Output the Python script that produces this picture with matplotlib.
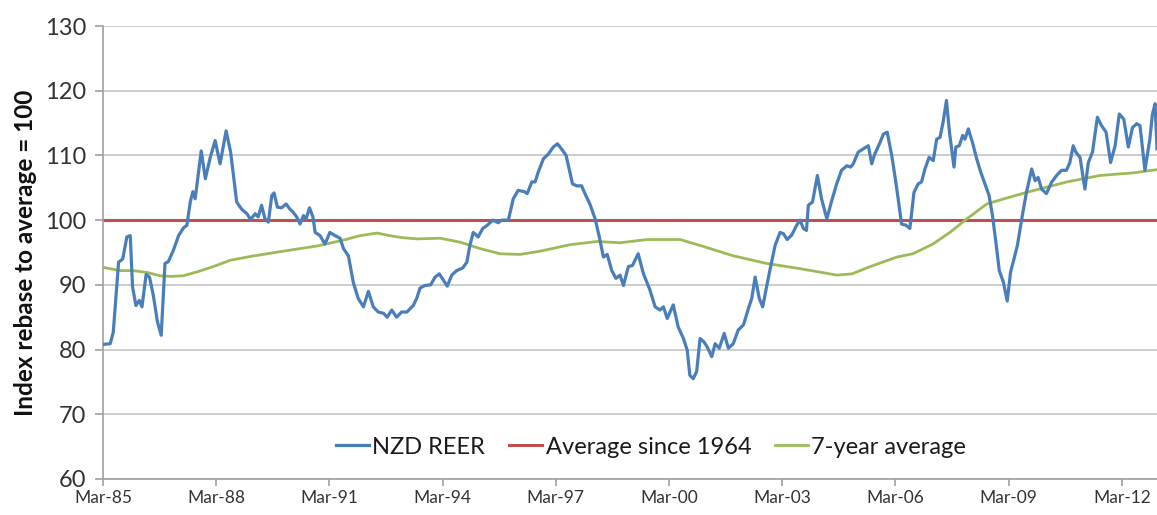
import matplotlib.pyplot as plt
import numpy as np

# NZD real effective exchange rate, index rebased so long-run average = 100
reer_date = [1985.18, 1985.36, 1985.44, 1985.58, 1985.69, 1985.80, 1985.89, 1985.95, 1986.04, 1986.13,
             1986.20, 1986.31, 1986.40, 1986.50, 1986.61, 1986.71, 1986.81, 1986.90, 1987.03, 1987.17,
             1987.30, 1987.39, 1987.48, 1987.55, 1987.61, 1987.77, 1987.88, 1988.01, 1988.14, 1988.27,
             1988.43, 1988.55, 1988.71, 1988.84, 1988.98, 1989.08, 1989.20, 1989.28, 1989.37, 1989.46,
             1989.55, 1989.64, 1989.70, 1989.79, 1989.90, 1990.02, 1990.12, 1990.21, 1990.30, 1990.39,
             1990.48, 1990.55, 1990.64, 1990.73, 1990.79, 1990.92, 1991.05, 1991.18, 1991.32, 1991.45,
             1991.54, 1991.67, 1991.80, 1991.93, 1992.07, 1992.20, 1992.33, 1992.46, 1992.60, 1992.70,
             1992.82, 1992.95, 1993.08, 1993.22, 1993.39, 1993.48, 1993.57, 1993.70, 1993.85, 1993.97,
             1994.08, 1994.19, 1994.29, 1994.41, 1994.54, 1994.70, 1994.81, 1994.89, 1994.98, 1995.11,
             1995.23, 1995.35, 1995.50, 1995.64, 1995.73, 1995.91, 1996.04, 1996.17, 1996.33, 1996.41,
             1996.53, 1996.62, 1996.70, 1996.84, 1996.97, 1997.10, 1997.21, 1997.32, 1997.44, 1997.53,
             1997.61, 1997.72, 1997.85, 1997.94, 1998.07, 1998.21, 1998.32, 1998.43, 1998.53, 1998.65,
             1998.76, 1998.87, 1998.96, 1999.09, 1999.20, 1999.35, 1999.49, 1999.65, 1999.80, 1999.93,
             2000.02, 2000.12, 2000.28, 2000.41, 2000.55, 2000.65, 2000.72, 2000.81, 2000.90, 2000.99,
             2001.09, 2001.18, 2001.30, 2001.39, 2001.50, 2001.63, 2001.74, 2001.87, 2002.00, 2002.14,
             2002.27, 2002.36, 2002.45, 2002.56, 2002.65, 2002.76, 2002.86, 2002.98, 2003.11, 2003.20,
             2003.30, 2003.42, 2003.55, 2003.64, 2003.73, 2003.81, 2003.86, 2003.97, 2004.10, 2004.21,
             2004.35, 2004.48, 2004.61, 2004.74, 2004.88, 2004.98, 2005.05, 2005.18, 2005.31, 2005.45,
             2005.54, 2005.62, 2005.76, 2005.85, 2005.95, 2006.07, 2006.16, 2006.24, 2006.33, 2006.45,
             2006.55, 2006.66, 2006.77, 2006.86, 2006.95, 2007.06, 2007.17, 2007.26, 2007.35, 2007.43,
             2007.52, 2007.60, 2007.72, 2007.77, 2007.86, 2007.95, 2008.01, 2008.10, 2008.21, 2008.32,
             2008.43, 2008.54, 2008.65, 2008.74, 2008.83, 2008.92, 2009.03, 2009.13, 2009.22, 2009.31,
             2009.40, 2009.51, 2009.64, 2009.78, 2009.87, 2009.95, 2010.04, 2010.17, 2010.31, 2010.44,
             2010.57, 2010.70, 2010.79, 2010.88, 2010.95, 2011.06, 2011.19, 2011.28, 2011.39, 2011.52,
             2011.63, 2011.75, 2011.87, 2011.99, 2012.10, 2012.22, 2012.34, 2012.45, 2012.56, 2012.65,
             2012.78, 2012.91, 2012.98, 2013.05, 2013.10]
reer_value = [80.8, 80.9, 82.7, 93.5, 94.0, 97.4, 97.6, 89.7, 86.8, 87.6,
              86.6, 91.6, 91.2, 88.4, 84.3, 82.2, 93.3, 93.6, 95.3, 97.6,
              98.8, 99.2, 102.8, 104.4, 103.3, 110.7, 106.4, 109.7, 112.3, 108.7,
              113.8, 110.5, 102.8, 101.7, 101.0, 100.1, 101.0, 100.5, 102.3, 100.2,
              99.7, 103.8, 104.2, 102.0, 101.9, 102.5, 101.7, 101.2, 100.5, 99.4,
              100.7, 100.2, 101.9, 100.5, 98.1, 97.6, 96.3, 98.1, 97.6, 97.2,
              95.6, 94.5, 90.4, 87.9, 86.6, 89.0, 86.6, 85.8, 85.6, 85.0,
              86.1, 85.0, 85.8, 85.8, 86.8, 87.9, 89.5, 89.9, 90.0, 91.2,
              91.7, 90.7, 89.8, 91.5, 92.2, 92.6, 93.5, 96.1, 98.1, 97.4,
              98.7, 99.2, 100.0, 99.6, 100.0, 100.0, 103.3, 104.6, 104.4, 104.1,
              105.9, 105.9, 107.4, 109.5, 110.2, 111.3, 111.8, 111.0, 110.0, 107.7,
              105.6, 105.3, 105.3, 104.1, 102.5, 100.2, 97.4, 94.3, 94.7, 92.2,
              91.0, 91.5, 89.9, 92.8, 93.0, 94.8, 91.7, 89.4, 86.6, 86.1,
              86.6, 84.8, 86.9, 83.5, 81.7, 79.9, 76.0, 75.5, 76.6, 81.7,
              81.2, 80.4, 78.9, 80.9, 80.2, 82.5, 80.2, 80.9, 83.0, 83.8,
              86.3, 87.9, 91.2, 87.9, 86.6, 89.9, 92.8, 96.1, 98.1, 97.9,
              97.0, 97.7, 99.2, 100.0, 98.7, 98.4, 102.3, 102.8, 106.9, 103.3,
              100.2, 103.0, 105.6, 107.7, 108.4, 108.2, 108.7, 110.5, 111.0, 111.5,
              108.7, 110.2, 112.0, 113.3, 113.6, 110.0, 106.6, 103.3, 99.4, 99.2,
              98.7, 104.3, 105.6, 105.9, 107.9, 109.7, 109.2, 112.5, 112.8, 115.1,
              118.5, 113.6, 108.2, 111.3, 111.5, 113.1, 112.5, 114.1, 112.0, 109.5,
              107.4, 105.6, 103.8, 100.7, 96.6, 92.2, 90.4, 87.5, 92.0, 94.0,
              96.1, 100.0, 104.3, 107.9, 106.1, 106.6, 104.8, 104.1, 105.9, 106.9,
              107.7, 107.7, 108.9, 111.5, 110.5, 109.7, 104.8, 108.9, 110.5, 115.9,
              114.6, 113.6, 108.9, 111.5, 116.4, 115.6, 111.3, 114.3, 114.9, 114.6,
              107.7, 112.5, 116.4, 118.0, 111.0]

avg_date = [1985.17, 1985.62, 1985.96, 1986.34, 1986.68, 1986.95, 1987.29, 1987.66, 1988.08, 1988.54,
            1989.09, 1989.94, 1990.84, 1991.53, 1991.98, 1992.43, 1992.77, 1993.09, 1993.49, 1994.10,
            1994.63, 1995.16, 1995.69, 1996.22, 1996.75, 1997.07, 1997.54, 1998.26, 1998.87, 1999.58,
            2000.46, 2001.04, 2001.86, 2002.76, 2003.64, 2004.62, 2005.02, 2005.49, 2006.21, 2006.63,
            2007.16, 2007.61, 2008.06, 2008.59, 2008.99, 2009.65, 2010.71, 2011.59, 2012.46, 2013.10]
avg_7yr = [92.7, 92.2, 92.2, 91.9, 91.4, 91.3, 91.4, 92.0, 92.8, 93.8,
           94.4, 95.2, 96.0, 96.9, 97.6, 98.0, 97.6, 97.3, 97.1, 97.2,
           96.6, 95.6, 94.8, 94.7, 95.2, 95.6, 96.2, 96.7, 96.5, 97.0,
           97.0, 96.0, 94.5, 93.3, 92.5, 91.5, 91.7, 92.8, 94.3, 94.8,
           96.3, 98.1, 100.2, 102.5, 103.2, 104.3, 105.9, 106.9, 107.3, 107.8]

avg_since_1964 = 100
tick_years = np.arange(1985, 2013, 3)
tick_labels = ['Mar-%02d' % (y % 100) for y in tick_years]

plt.rcParams['font.family'] = ['Lato', 'DejaVu Sans']

fig = plt.figure(figsize=(11.57, 5.15), dpi=100)
ax = fig.add_axes([0.089, 0.070, 0.911, 0.8795])

ax.plot(reer_date, reer_value, color='#4a7ebb', lw=2.3, label='NZD REER', zorder=3)
ax.axhline(avg_since_1964, color='#c0504d', lw=2.2, label='Average since 1964', zorder=2)
ax.plot(avg_date, avg_7yr, color='#9bbb59', lw=2.0, label='7-year average', zorder=2)

ax.set_xlim(1985.17, 2013.10)
ax.set_ylim(60, 130)
ax.set_yticks(range(60, 131, 10))
ax.set_xticks(tick_years + 2 / 12)
ax.set_xticklabels(tick_labels)

ax.grid(axis='y', color='#c8c8c8', lw=1.3)
ax.set_axisbelow(True)
for side in ['top', 'right']:
    ax.spines[side].set_visible(False)
for side in ['left', 'bottom']:
    ax.spines[side].set_color('#a0a0a0')
    ax.spines[side].set_linewidth(1.2)
ax.tick_params(axis='y', colors='#a0a0a0', labelcolor='#333333', labelsize=17, length=6, width=1.2, pad=6)
ax.tick_params(axis='x', colors='#a0a0a0', labelcolor='#333333', labelsize=12.5, length=5, width=1.2, pad=3)

ax.set_ylabel('Index rebase to average = 100', fontsize=17.5, fontweight='bold', color='#111111', labelpad=6)

leg = ax.legend(loc='lower center', bbox_to_anchor=(0.52, 0.0), ncol=3, frameon=False,
                fontsize=17, handlelength=1.4, handletextpad=0.15, columnspacing=1.0)
for t in leg.get_texts():
    t.set_color('#1a1a1a')

fig.savefig('out.png', dpi=100)
